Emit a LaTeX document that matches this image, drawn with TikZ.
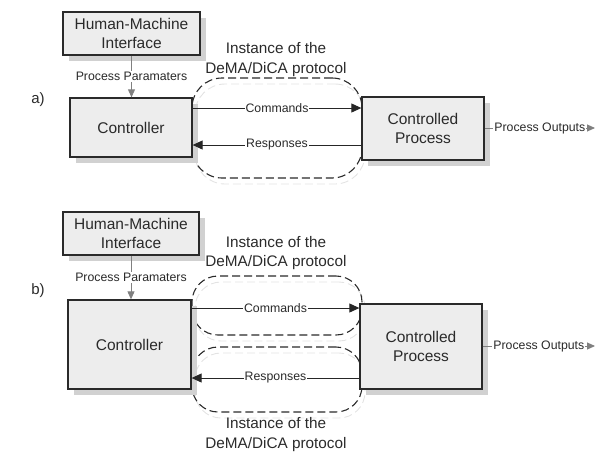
\documentclass[tikz,border=0pt]{standalone}
\usepackage{fontspec}
\setmainfont{Liberation Sans}
\usetikzlibrary{shadows,arrows.meta}
\definecolor{ink}{HTML}{2A2A2A}
\definecolor{boxfill}{HTML}{EDEDED}
\definecolor{wire}{HTML}{808080}

\begin{document}
\begin{tikzpicture}[x=1pt,y=-1pt,
  block/.style={draw=ink, line width=1.3pt, fill=boxfill, text=ink, align=center,
    font=\fontsize{15.5}{19}\selectfont, inner sep=0pt,
    drop shadow={shadow xshift=6pt, shadow yshift=-6pt, fill=black!18, opacity=1}},
  proto/.style={draw=ink, line width=1.1pt, dash pattern=on 8pt off 4pt,
    rectangle, inner sep=0pt, minimum width=170pt},
  protoshade/.style={proto, line width=0.9pt, draw=black!11},
  protolabel/.style={text=ink, align=center, font=\fontsize{15.3}{19.5}\selectfont},
  cmd/.style={draw=black!85, line width=1pt, -{Triangle[length=10pt,width=9pt]}},
  feed/.style={draw=wire, line width=0.9pt, -{Triangle[length=8pt,width=7pt]}},
  lab/.style={fill=white, inner sep=1pt, text=ink, font=\fontsize{12.3}{14}\selectfont},
  part/.style={text=ink, font=\fontsize{15}{18}\selectfont}
]
\useasboundingbox (0,0) rectangle (596,451);

% ---------------- a) single protocol instance ----------------
\node[part] (tagA) at (38,100) {a)};

\node[protoshade, rounded corners=30pt, minimum height=100pt] at (280,134) {};
\node[proto, rounded corners=30pt, minimum height=100pt] (protoA) at (277,128) {};
\node[protolabel] (protoAlab) at (276,59.5) {Instance of the\\DeMA/DiCA protocol};

\node[block, minimum width=137pt, minimum height=43pt] (hmiA) at (131.5,33.5) {Human-Machine\\Interface};
\node[block, minimum width=122pt, minimum height=59pt] (ctrlA) at (131,127.5) {Controller};
\node[block, minimum width=122pt, minimum height=63pt] (procA) at (423,128.5) {Controlled\\Process};
\coordinate (outA) at (595,128);

\draw[feed] (hmiA.south) -- node[lab] {Process Paramaters} (hmiA.south |- ctrlA.north);
\draw[cmd] (ctrlA.east |- 0,108) -- node[lab] {Commands} (procA.west |- 0,108);
\draw[cmd] (procA.west |- 0,145) -- node[lab] {Responses} (ctrlA.east |- 0,145);
\draw[feed] (procA.east |- outA) -- node[lab] {Process Outputs} (outA);

% ---------------- b) one protocol instance per direction ----------------
\node[part] (tagB) at (38,291) {b)};

\node[protoshade, rounded corners=26pt, minimum height=59pt] at (280,311.5) {};
\node[proto, rounded corners=26pt, minimum height=59pt] (protoB1) at (277,305.5) {};
\node[protoshade, rounded corners=26pt, minimum height=65pt] at (280,385.5) {};
\node[proto, rounded corners=26pt, minimum height=65pt] (protoB2) at (277,379.5) {};
\node[protolabel] (protoB1lab) at (276,253) {Instance of the\\DeMA/DiCA protocol};
\node[protolabel] (protoB2lab) at (276,434.5) {Instance of the\\DeMA/DiCA protocol};

\node[block, minimum width=136pt, minimum height=43pt] (hmiB) at (131,233.5) {Human-Machine\\Interface};
\node[block, minimum width=123pt, minimum height=89pt] (ctrlB) at (129.5,344.5) {Controller};
\node[block, minimum width=122pt, minimum height=85pt] (procB) at (421,346.5) {Controlled\\Process};
\coordinate (outB) at (595,346);

\draw[feed] (hmiB.south) -- node[lab] {Process Paramaters} (hmiB.south |- ctrlB.north);
\draw[cmd] (ctrlB.east |- 0,308) -- node[lab] {Commands} (procB.west |- 0,308);
\draw[cmd] (procB.west |- 0,378) -- node[lab] {Responses} (ctrlB.east |- 0,378);
\draw[feed] (procB.east |- outB) -- node[lab] {Process Outputs} (outB);
\end{tikzpicture}
\end{document}
